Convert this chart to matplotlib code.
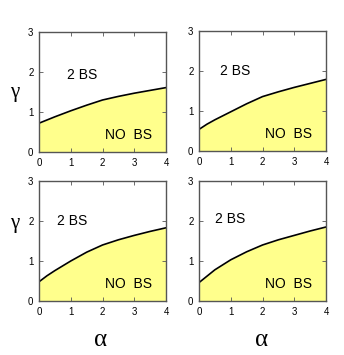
import matplotlib.pyplot as plt

# boundary between the "2 BS" and "NO BS" regions
alpha = [0, 0.25, 0.5, 1, 1.5, 2, 2.5, 3, 3.5, 4]
gamma_tl = [0.72, 0.80, 0.88, 1.03, 1.17, 1.30, 1.39, 1.47, 1.54, 1.61]
gamma_tr = [0.54, 0.67, 0.78, 0.98, 1.18, 1.36, 1.48, 1.59, 1.69, 1.79]
gamma_bl = [0.48, 0.63, 0.76, 1.00, 1.22, 1.40, 1.53, 1.64, 1.74, 1.83]
gamma_br = [0.46, 0.62, 0.78, 1.03, 1.23, 1.40, 1.53, 1.64, 1.75, 1.85]

label_upper = "2 BS"
label_lower = "NO  BS"
upper_pos = [(0.88, 1.93), (0.66, 2.0), (0.58, 2.0), (0.51, 2.06)]

xticks = [0, 1, 2, 3, 4]
yticks = [0, 1, 2, 3]

fig = plt.figure(figsize=(3.44, 3.55), dpi=100)
W, H = 344, 355
boxes = [(39, 32), (199, 31), (39, 181), (199, 181)]
curves = [gamma_tl, gamma_tr, gamma_bl, gamma_br]

for (x0, y0), g, (tx, ty) in zip(boxes, curves, upper_pos):
    ax = fig.add_axes([x0 / W, 1 - (y0 + 120) / H, 127 / W, 120 / H])
    ax.fill_between(alpha, 0, g, color="#ffff8c", lw=0)
    ax.plot(alpha, g, color="black", lw=1.2)
    ax.set_xlim(0, 4)
    ax.set_ylim(0, 3)
    ax.set_xticks(xticks)
    ax.set_yticks(yticks)
    ax.tick_params(direction="in", length=3, width=0.6, top=True, right=True,
                   labelsize=7, pad=4, colors="#555555", labelcolor="black")
    for lab in ax.get_xticklabels() + ax.get_yticklabels():
        lab.set_family("Liberation Sans")
    for s in ax.spines.values():
        s.set_color("#555555")
        s.set_linewidth(1.0)
    ax.text(tx, ty, label_upper, fontsize=10, va="center", family="Liberation Sans")
    ax.text(2.08, 0.43, label_lower, fontsize=10, va="center", family="Liberation Sans")

fig.text(15 / W, 1 - 92 / H, "γ", fontsize=15, family="Liberation Serif", ha="center", va="center")
fig.text(15 / W, 1 - 223 / H, "γ", fontsize=15, family="Liberation Serif", ha="center", va="center")
fig.text(101 / W, 1 - 340 / H, "α", fontsize=18, family="Liberation Serif", ha="center", va="center")
fig.text(262 / W, 1 - 340 / H, "α", fontsize=18, family="Liberation Serif", ha="center", va="center")

fig.savefig("out.png", dpi=100)
